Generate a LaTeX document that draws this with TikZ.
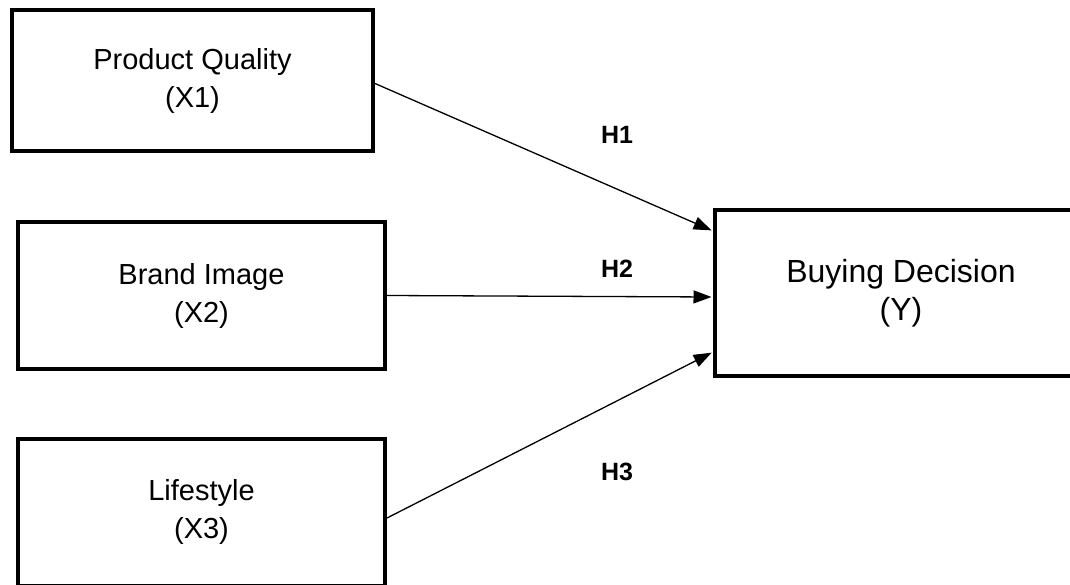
\documentclass[tikz,border=0pt]{standalone}
\usepackage{fontspec}
\setmainfont{Liberation Sans}
\usetikzlibrary{arrows.meta}
\begin{document}
\begin{tikzpicture}[x=1pt,y=-1pt,every node/.style={align=center},
  varbox/.style={draw,line width=4pt,fill=white,font=\fontsize{29}{38}\selectfont},
  link/.style={-{Triangle[length=18pt,width=13pt]},line width=1.3pt,shorten >=1.5pt},
  hyp/.style={font=\fontsize{25}{28}\selectfont\bfseries}]
\useasboundingbox (0,0) rectangle (1070,585);
\clip (0,0) rectangle (1070,585);
\node[varbox,minimum width=361pt,minimum height=141pt] (pq) at (192.5,80.5) {Product Quality\\(X1)};
\node[varbox,minimum width=367pt,minimum height=147pt] (bi) at (201.5,295.5) {Brand Image\\(X2)};
\node[varbox,minimum width=367pt,minimum height=147pt] (ls) at (201.5,512) {Lifestyle\\(X3)};
\node[varbox,minimum width=372pt,minimum height=166pt,font=\fontsize{32}{38}\selectfont] (bd) at (901,293) {Buying Decision\\(Y)};
\draw[link] ([yshift=-3pt]pq.east) -- ([yshift=62pt]bd.west);
\draw[link] (bi.east) -- ([yshift=-4pt]bd.west);
\draw[link] ([yshift=-6pt]ls.east) -- ([yshift=-59pt]bd.west);
\node[hyp] (h1) at (617,135) {H1}; \node[hyp] (h2) at (617,269) {H2}; \node[hyp] (h3) at (617,472) {H3};
\end{tikzpicture}
\end{document}
